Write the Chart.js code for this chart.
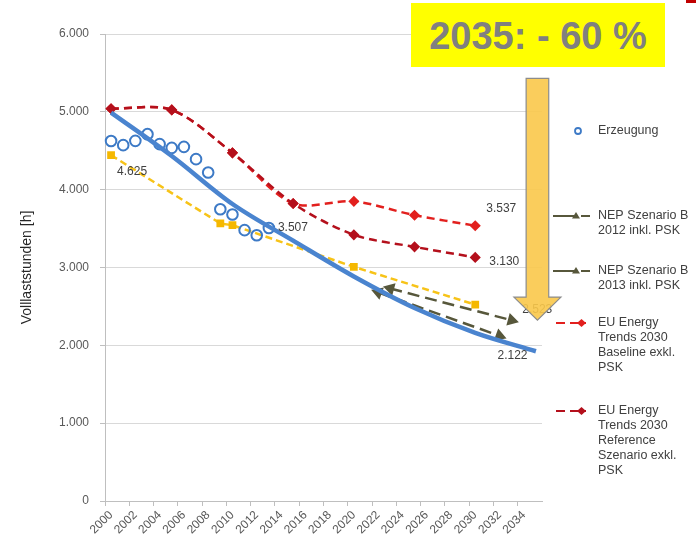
<!DOCTYPE html>
<html lang="de">
<head>
<meta charset="utf-8">
<title>Volllaststunden</title>
<script src="https://cdn.jsdelivr.net/npm/chart.js@4.4.1/dist/chart.umd.min.js"></script>
<style>
  html, body { margin: 0; padding: 0; background: #fff; }
  #wrap { position: relative; width: 696px; height: 543px; overflow: hidden; }
  #chart { position: absolute; left: 0; top: 0; }
  #callout {
    position: absolute; left: 411px; top: 3px; width: 254px; height: 64px;
    background: #ffff00; color: #808080;
    font: bold 38px "Liberation Sans", Arial, sans-serif;
    text-align: center; line-height: 66px; white-space: nowrap;
  }
  #corner { position: absolute; left: 686px; top: 0; width: 10px; height: 3px; background: #c00000; }
</style>
</head>
<body>
<div id="wrap">
  <canvas id="chart" width="696" height="543"></canvas>
  <div id="callout">2035: - 60 %</div>
  <div id="corner"></div>
</div>
<script>
// x axis: one category per year, labels shown every 2nd year
const years = ['2000','2001','2002','2003','2004','2005','2006','2007','2008','2009',
  '2010','2011','2012','2013','2014','2015','2016','2017','2018','2019',
  '2020','2021','2022','2023','2024','2025','2026','2027','2028','2029',
  '2030','2031','2032','2033','2034','2035'];

const yTicks = [0, 1000, 2000, 3000, 4000, 5000, 6000];

// Erzeugung (measured)
const erzeugungYears = [2000, 2001, 2002, 2003, 2004, 2005, 2006, 2007, 2008, 2009, 2010, 2011, 2012, 2013];
const erzeugung = [4625, 4572, 4627, 4713, 4585, 4537, 4550, 4392, 4221, 3749, 3681, 3480, 3415, 3507];

// trend line down to 2035
const trendYears = [2000, 2005, 2010, 2015, 2020, 2025, 2030, 2035];
const trend = [4990, 4433, 3816, 3345, 2885, 2480, 2160, 1924];

// yellow dashed series
const gelbYears = [2000, 2009, 2010, 2020, 2030];
const gelb = [4443, 3566, 3544, 3008, 2523];

// NEP Szenario B
const nep2012Years = [2022, 2032];
const nep2012 = [2680, 2122];
const nep2013Years = [2023, 2033];
const nep2013 = [2730, 2322];

// EU Energy Trends 2030
const euYears = [2000, 2005, 2010, 2015, 2020, 2025, 2030];
const euBaseline = [5040, 5025, 4473, 3822, 3850, 3672, 3537];
const euReference = [5040, 5025, 4473, 3822, 3420, 3265, 3130];

const fmt = v => String(Math.round(v)).replace(/\B(?=(\d{3})+(?!\d))/g, '.');
const pts = (xs, ys) => xs.map((x, i) => ({ x: String(x), y: ys[i] }));

const font = '"Liberation Sans", Arial, sans-serif';

const datasets = [
  {
    label: ['Trend'],
    data: pts(trendYears, trend),
    borderColor: '#4a84cf',
    borderWidth: 4.5,
    pointRadius: 0,
    cubicInterpolationMode: 'monotone',
    legendRow: null
  },
  {
    label: ['Erzeugung'],
    data: pts(erzeugungYears, erzeugung),
    showLine: false,
    pointStyle: 'circle',
    pointRadius: 5.3,
    pointBorderWidth: 2,
    pointBorderColor: '#3d7ac6',
    pointBackgroundColor: 'rgba(0,0,0,0)',
    legendRow: 131, legendKind: 'circle'
  },
  {
    label: ['NEP Szenario B', '2012 inkl. PSK'],
    data: pts(nep2012Years, nep2012),
    borderColor: '#57573b',
    borderWidth: 2.5,
    borderDash: [12, 6],
    pointStyle: 'triangle',
    pointRadius: 5,
    pointRotation: [-70, 110],
    pointBackgroundColor: '#57573b',
    pointBorderColor: '#57573b',
    legendRow: 216, legendKind: 'nep'
  },
  {
    label: ['NEP Szenario B', '2013 inkl. PSK'],
    data: pts(nep2013Years, nep2013),
    borderColor: '#57573b',
    borderWidth: 2.5,
    borderDash: [12, 6],
    pointStyle: 'triangle',
    pointRadius: 5,
    pointRotation: [-75, 105],
    pointBackgroundColor: '#57573b',
    pointBorderColor: '#57573b',
    legendRow: 271, legendKind: 'nep'
  },
  {
    label: ['Gelb'],
    data: pts(gelbYears, gelb),
    borderColor: '#f7c318',
    borderWidth: 2.5,
    borderDash: [7, 4],
    pointStyle: 'rect',
    pointRadius: 5.5,
    pointBackgroundColor: '#f5b800',
    pointBorderWidth: 0,
    legendRow: null
  },
  {
    label: ['EU Energy', 'Trends 2030', 'Reference', 'Szenario exkl.', 'PSK'],
    data: pts(euYears, euReference),
    borderColor: '#b4101c',
    borderWidth: 2.5,
    borderDash: [8, 5],
    tension: 0.3,
    pointStyle: 'rectRot',
    pointRadius: 3.8,
    pointBackgroundColor: '#b4101c',
    pointBorderColor: '#b4101c',
    legendRow: 411, legendKind: 'eu'
  },
  {
    label: ['EU Energy', 'Trends 2030', 'Baseline exkl.', 'PSK'],
    data: pts(euYears, euBaseline),
    borderColor: '#e2201e',
    borderWidth: 2.5,
    borderDash: [8, 5],
    tension: 0.3,
    pointStyle: 'rectRot',
    pointRadius: 3.8,
    pointBackgroundColor: '#e2201e',
    pointBorderColor: '#e2201e',
    legendRow: 323, legendKind: 'eu'
  }
];

// value labels: dataset index, point index, offset
const valueLabels = [
  { ds: 1, i: 0, dx: 6, dy: 31 },
  { ds: 1, i: 13, dx: 9, dy: 0 },
  { ds: 6, i: 6, dx: 11, dy: -17 },
  { ds: 5, i: 6, dx: 14, dy: 4 },
  { ds: 4, i: 4, dx: 47, dy: 5 },
  { ds: 2, i: 1, dx: -2, dy: 20 }
];

const valueLabelPlugin = {
  id: 'valueLabels',
  afterDatasetsDraw(chart) {
    const ctx = chart.ctx;
    ctx.save();
    ctx.font = '12px ' + font;
    ctx.fillStyle = '#404040';
    ctx.textAlign = 'left';
    ctx.textBaseline = 'middle';
    valueLabels.forEach(l => {
      const el = chart.getDatasetMeta(l.ds).data[l.i];
      const v = chart.data.datasets[l.ds].data[l.i].y;
      ctx.fillText(fmt(v), el.x + l.dx, el.y + l.dy);
    });
    ctx.restore();
  }
};

// big arrow pointing at 2035
const arrowYear = '2035';
const arrowFrom = 5430, arrowNeck = 2620, arrowTo = 2322;

const arrowPlugin = {
  id: 'arrow',
  afterDraw(chart) {
    const { ctx, scales: { x, y } } = chart;
    const cx = x.getPixelForValue(arrowYear) + 1.5;
    const top = y.getPixelForValue(arrowFrom);
    const neck = y.getPixelForValue(arrowNeck);
    const tip = y.getPixelForValue(arrowTo);
    const sw = 11.3, hw = 23.5;
    ctx.save();
    ctx.beginPath();
    ctx.moveTo(cx - sw, top);
    ctx.lineTo(cx + sw, top);
    ctx.lineTo(cx + sw, neck);
    ctx.lineTo(cx + hw, neck);
    ctx.lineTo(cx, tip);
    ctx.lineTo(cx - hw, neck);
    ctx.lineTo(cx - sw, neck);
    ctx.closePath();
    ctx.globalAlpha = 0.9;
    ctx.fillStyle = '#f9c84a';
    ctx.fill();
    ctx.globalAlpha = 1;
    ctx.strokeStyle = '#8c8c8c';
    ctx.lineWidth = 1.2;
    ctx.stroke();
    ctx.restore();
  }
};

// legend on the right
const legendPlugin = {
  id: 'sideLegend',
  afterDraw(chart) {
    const ctx = chart.ctx;
    ctx.save();
    chart.data.datasets.forEach(ds => {
      if (ds.legendRow == null) return;
      const y0 = ds.legendRow;
      ctx.setLineDash([]);
      if (ds.legendKind === 'circle') {
        ctx.beginPath();
        ctx.arc(578, y0, 3, 0, Math.PI * 2);
        ctx.strokeStyle = ds.pointBorderColor;
        ctx.lineWidth = 1.8;
        ctx.stroke();
      } else if (ds.legendKind === 'nep') {
        ctx.strokeStyle = ds.borderColor;
        ctx.lineWidth = 2;
        ctx.beginPath();
        ctx.moveTo(553, y0); ctx.lineTo(574, y0);
        ctx.moveTo(581, y0); ctx.lineTo(590, y0);
        ctx.stroke();
        ctx.fillStyle = ds.borderColor;
        ctx.beginPath();
        ctx.moveTo(572, y0 + 2.5); ctx.lineTo(580, y0 + 2.5); ctx.lineTo(576, y0 - 4);
        ctx.closePath();
        ctx.fill();
      } else if (ds.legendKind === 'eu') {
        ctx.strokeStyle = ds.borderColor;
        ctx.lineWidth = 2.2;
        ctx.beginPath();
        ctx.moveTo(556, y0); ctx.lineTo(565, y0);
        ctx.moveTo(570, y0); ctx.lineTo(586, y0);
        ctx.stroke();
        ctx.fillStyle = ds.borderColor;
        ctx.beginPath();
        ctx.moveTo(577, y0); ctx.lineTo(581.5, y0 - 4); ctx.lineTo(586, y0); ctx.lineTo(581.5, y0 + 4);
        ctx.closePath();
        ctx.fill();
      }
      ctx.font = '12.5px ' + font;
      ctx.fillStyle = '#404040';
      ctx.textAlign = 'left';
      ctx.textBaseline = 'middle';
      ds.label.forEach((line, k) => ctx.fillText(line, 598, y0 + k * 14.8));
    });
    ctx.restore();
  }
};

new Chart(document.getElementById('chart'), {
  type: 'line',
  data: { labels: years, datasets },
  plugins: [valueLabelPlugin, arrowPlugin, legendPlugin],
  options: {
    responsive: false,
    animation: false,
    layout: { padding: { top: 34, right: 154, bottom: 0, left: 0 } },
    plugins: { legend: { display: false }, tooltip: { enabled: false } },
    scales: {
      x: {
        type: 'category',
        offset: true,
        afterFit: s => { s.height = 42; },
        border: { display: true, color: '#bfbfbf', width: 1 },
        grid: {
          offset: true,
          drawOnChartArea: false,
          drawTicks: true,
          tickLength: 5,
          color: c => (c.index % 2 === 0 ? '#bfbfbf' : 'rgba(0,0,0,0)')
        },
        ticks: {
          autoSkip: false,
          maxRotation: 45,
          minRotation: 45,
          padding: 2,
          color: '#595959',
          font: { family: font, size: 12 },
          callback: function (value, index) {
            return index % 2 === 0 ? this.getLabelForValue(value) : '';
          }
        }
      },
      y: {
        min: yTicks[0],
        max: yTicks[yTicks.length - 1],
        afterFit: s => { s.width = 105; },
        afterBuildTicks: s => { s.ticks = yTicks.map(v => ({ value: v })); },
        border: { display: true, color: '#bfbfbf', width: 1 },
        grid: { color: '#d9d9d9', tickLength: 5, tickColor: '#bfbfbf' },
        ticks: {
          padding: 11,
          color: '#595959',
          font: { family: font, size: 12 },
          callback: v => fmt(v)
        },
        title: {
          display: true,
          text: 'Volllaststunden [h]',
          color: '#262626',
          font: { family: font, size: 14 },
          padding: { top: 18.6, bottom: 0 }
        }
      }
    }
  }
});
</script>
</body>
</html>
